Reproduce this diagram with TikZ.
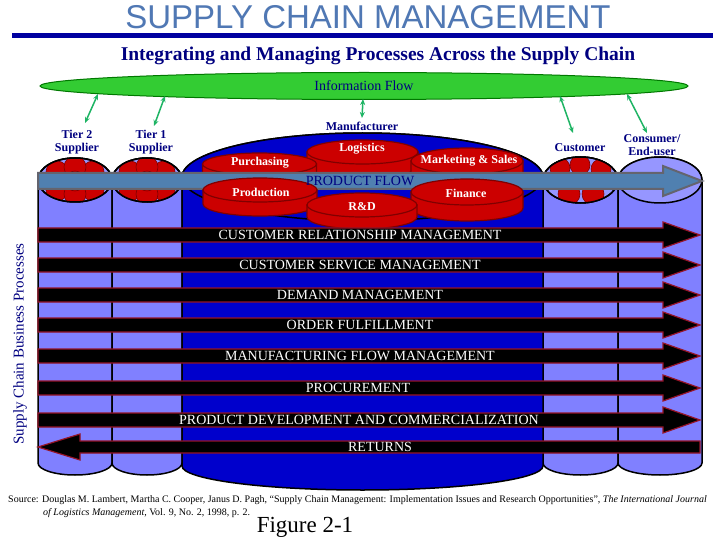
\documentclass[tikz,border=0pt]{standalone}
\usepackage{fontspec}
\setmainfont{Liberation Serif}
\newfontfamily\titlefont{Liberation Sans}
\usetikzlibrary{shapes.geometric}
\usetikzlibrary{arrows.meta}

\definecolor{titleblue}{RGB}{80,120,180}
\definecolor{rulenavy}{RGB}{0,0,160}
\definecolor{textnavy}{RGB}{0,0,128}
\definecolor{infogreen}{RGB}{51,204,51}
\definecolor{infoedge}{RGB}{0,120,0}
\definecolor{linkgreen}{RGB}{30,180,100}
\definecolor{lightcol}{RGB}{128,128,255}
\definecolor{lighttop}{RGB}{150,150,255}
\definecolor{makerblue}{RGB}{0,0,204}
\definecolor{discred}{RGB}{204,0,0}
\definecolor{discedge}{RGB}{128,0,0}
\definecolor{flowblue}{RGB}{80,128,176}
\definecolor{flowedge}{RGB}{100,100,110}
\definecolor{procedge}{RGB}{150,20,40}

\tikzset{
  column/.style={fill=lightcol,draw=black,line width=1.5},
  coltop/.style={fill=lighttop,draw=black,line width=1.5},
  makercol/.style={fill=makerblue,draw=black,line width=1.5},
  disc/.style={fill=discred,draw=discedge,line width=1.2},
  blob/.style={fill=discred,draw=discedge,line width=0.6},
  disclabel/.style={font=\bfseries\fontsize{12}{12}\selectfont,text=white},
  actor/.style={font=\bfseries\fontsize{12}{13}\selectfont,text=textnavy,align=center},
  infolink/.style={draw=linkgreen,line width=1.5,{Stealth[length=6pt,width=5pt]}-{Stealth[length=6pt,width=5pt]}},
  flowarrow/.style={fill=flowblue,draw=flowedge,line width=2},
  procarrow/.style={fill=black,draw=procedge,line width=1.2},
  proclabel/.style={font=\fontsize{14}{14}\selectfont,text=white}
}

\begin{document}
\begin{tikzpicture}[x=1pt,y=-1pt]
\useasboundingbox (0,0) rectangle (720,540);
\fill[white] (0,0) rectangle (720,540);

\node[font=\titlefont\fontsize{33}{33}\selectfont,text=titleblue] (title) at (368,17) {SUPPLY CHAIN MANAGEMENT};
\draw[rulenavy,line width=5] (12,36) -- (713,36);
\node[font=\bfseries\fontsize{19.5}{19.5}\selectfont,text=textnavy] (subtitle) at (378,56) {Integrating and Managing Processes Across the Supply Chain};

\node[ellipse,fill=infogreen,draw=infoedge,line width=1,minimum width=648,minimum height=27,inner sep=0,font=\fontsize{14}{14}\selectfont,text=textnavy] (info) at (364,86) {Information Flow};

\node[actor] (tiertwo) at (77,142) {Tier 2\\Supplier};
\node[actor] (tierone) at (151,142) {Tier 1\\Supplier};
\node[actor] (maker) at (362,126) {Manufacturer};
\node[actor] (customer) at (580,148) {Customer};
\node[actor] (consumer) at (652,145) {Consumer/\\End-user};

\coordinate (ia) at (98,94);
\coordinate (ib) at (165,96);
\coordinate (ic) at (363,99);
\coordinate (id) at (560,96);
\coordinate (ie) at (627,94);
\coordinate (ta) at (85,123);
\coordinate (tb) at (154,126);
\coordinate (tc) at (362,118);
\coordinate (td) at (573,133);
\coordinate (te) at (647,133);
\draw[infolink] (ia) -- (ta);
\draw[infolink] (ib) -- (tb);
\draw[infolink] (ic) -- (tc);
\draw[infolink] (id) -- (td);
\draw[infolink] (ie) -- (te);

% columns
\draw[column] (38,180) -- (38,463) arc[start angle=180,end angle=0,x radius=37,y radius=12] -- (112,180) arc[start angle=0,end angle=-180,x radius=37,y radius=22] -- cycle;
\draw[column] (112,180) -- (112,463) arc[start angle=180,end angle=0,x radius=35,y radius=12] -- (182,180) arc[start angle=0,end angle=-180,x radius=35,y radius=22] -- cycle;
\draw[column] (543,180) -- (543,463) arc[start angle=180,end angle=0,x radius=37.5,y radius=12] -- (618,180) arc[start angle=0,end angle=-180,x radius=37.5,y radius=23] -- cycle;
\draw[column] (618,180) -- (618,463) arc[start angle=180,end angle=0,x radius=42,y radius=12] -- (702,180) arc[start angle=0,end angle=-180,x radius=42,y radius=23] -- cycle;
\draw[makercol] (182,177) -- (182,466) arc[start angle=180,end angle=0,x radius=180.5,y radius=24] -- (543,177) arc[start angle=0,end angle=-180,x radius=180.5,y radius=44] -- cycle;
\draw[makercol] (362.5,177) ellipse[x radius=180.5,y radius=44];

\draw[coltop] (75,180) ellipse[x radius=37,y radius=22];
\draw[coltop] (147,180) ellipse[x radius=35,y radius=22];
\draw[coltop] (580.5,180) ellipse[x radius=37.5,y radius=23];
\draw[coltop] (660,180) ellipse[x radius=42,y radius=23];

\begin{scope}
\clip (75,180) ellipse[x radius=37,y radius=22];
\draw[blob] (57,172) circle[radius=11];
\draw[blob] (93,172) circle[radius=11];
\draw[blob] (57,190) circle[radius=11];
\draw[blob] (93,190) circle[radius=11];
\draw[blob] (75,167) circle[radius=11];
\draw[blob] (75,194) circle[radius=11];
\draw[blob] (75,181) circle[radius=10];
\end{scope}
\begin{scope}
\clip (147,180) ellipse[x radius=35,y radius=22];
\draw[blob] (130,172) circle[radius=11];
\draw[blob] (164,172) circle[radius=11];
\draw[blob] (130,190) circle[radius=11];
\draw[blob] (164,190) circle[radius=11];
\draw[blob] (147,167) circle[radius=11];
\draw[blob] (147,194) circle[radius=11];
\draw[blob] (147,181) circle[radius=10];
\end{scope}
\begin{scope}
\clip (580.5,180) ellipse[x radius=37.5,y radius=23];
\draw[blob] (560,168) circle[radius=10];
\draw[blob] (580,165) circle[radius=10];
\draw[blob] (601,169) circle[radius=10];
\draw[blob] (569,194) circle[radius=11];
\draw[blob] (593,194) circle[radius=11];
\end{scope}
\draw[black,line width=1.5] (75,180) ellipse[x radius=37,y radius=22];
\draw[black,line width=1.5] (147,180) ellipse[x radius=35,y radius=22];
\draw[black,line width=1.5] (580.5,180) ellipse[x radius=37.5,y radius=23];

% back discs
\draw[disc] (307,152) -- (307,166) arc[start angle=180,end angle=0,x radius=55.5,y radius=12] -- (418,152) -- cycle;
\draw[disc] (362.5,152) ellipse[x radius=55.5,y radius=12];
\draw[disc] (202.5,164) -- (202.5,178) arc[start angle=180,end angle=0,x radius=57,y radius=11] -- (316.5,164) -- cycle;
\draw[disc] (259.5,164) ellipse[x radius=57,y radius=11];
\draw[disc] (411,161) -- (411,175) arc[start angle=180,end angle=0,x radius=56,y radius=13] -- (523,161) -- cycle;
\draw[disc] (467,161) ellipse[x radius=56,y radius=13];
\node[disclabel] (logistics) at (362,149) {Logistics};
\node[disclabel] (purchasing) at (260,163) {Purchasing};
\node[disclabel] (marketing) at (469,161) {Marketing \& Sales};

% product flow
\draw[flowarrow] (38,173) -- (663,173) -- (663,166) -- (702,181) -- (663,196) -- (663,189) -- (38,189) -- cycle;

% front discs
\draw[disc] (203,190) -- (203,204) arc[start angle=180,end angle=0,x radius=57,y radius=12] -- (317,190) -- cycle;
\draw[disc] (260,190) ellipse[x radius=57,y radius=12];
\draw[disc] (411,192) -- (411,208) arc[start angle=180,end angle=0,x radius=56,y radius=13] -- (523,192) -- cycle;
\draw[disc] (467,192) ellipse[x radius=56,y radius=13];
\draw[disc] (307,205) -- (307,217) arc[start angle=180,end angle=0,x radius=55,y radius=12] -- (417,205) -- cycle;
\draw[disc] (362,205) ellipse[x radius=55,y radius=12];
\node[disclabel] (production) at (261,192) {Production};
\node[disclabel] (finance) at (466,193) {Finance};
\node[disclabel] (rnd) at (362,207) {R\&D};
\node[font=\fontsize{14}{14}\selectfont,text=textnavy] (flow) at (360,181) {PRODUCT FLOW};

% processes
\draw[procarrow] (38,228) -- (663,228) -- (663,222) -- (700,235) -- (663,248) -- (663,242) -- (38,242) -- cycle;
\draw[procarrow] (38,258) -- (663,258) -- (663,252) -- (700,265) -- (663,278) -- (663,272) -- (38,272) -- cycle;
\draw[procarrow] (38,288) -- (663,288) -- (663,282) -- (700,295) -- (663,308) -- (663,302) -- (38,302) -- cycle;
\draw[procarrow] (38,318) -- (663,318) -- (663,312) -- (700,325) -- (663,338) -- (663,332) -- (38,332) -- cycle;
\draw[procarrow] (38,349) -- (663,349) -- (663,343) -- (700,356) -- (663,369) -- (663,363) -- (38,363) -- cycle;
\draw[procarrow] (38,381) -- (663,381) -- (663,375) -- (700,388) -- (663,401) -- (663,395) -- (38,395) -- cycle;
\draw[procarrow] (38,413) -- (663,413) -- (663,407) -- (700,420) -- (663,433) -- (663,427) -- (38,427) -- cycle;
\draw[procarrow] (700,441) -- (80,441) -- (80,434) -- (38,447) -- (80,460) -- (80,453) -- (700,453) -- cycle;
\node[proclabel] (crm) at (360,235) {CUSTOMER RELATIONSHIP MANAGEMENT};
\node[proclabel] (csm) at (360,265) {CUSTOMER SERVICE MANAGEMENT};
\node[proclabel] (dm) at (360,295) {DEMAND MANAGEMENT};
\node[proclabel] (of) at (360,325) {ORDER FULFILLMENT};
\node[proclabel] (mfm) at (360,356) {MANUFACTURING FLOW MANAGEMENT};
\node[proclabel] (proc) at (358,388) {PROCUREMENT};
\node[proclabel] (pdc) at (359,420) {PRODUCT DEVELOPMENT AND COMMERCIALIZATION};
\node[proclabel] (ret) at (380,447) {RETURNS};

\node[font=\fontsize{15}{15}\selectfont,text=textnavy,rotate=90] (scbp) at (20,344) {Supply Chain Business Processes};

\node[font=\fontsize{10}{10}\selectfont,anchor=west,inner sep=0] (src) at (8,500) {Source: Douglas M. Lambert, Martha C. Cooper, Janus D. Pagh, ``Supply Chain Management: Implementation Issues and Research Opportunities'', \textit{The International Journal}};
\node[font=\fontsize{10}{10}\selectfont,anchor=west,inner sep=0] (srcb) at (43,513) {\textit{of Logistics Management}, Vol. 9, No. 2, 1998, p. 2.};
\node[font=\fontsize{23}{23}\selectfont] (fig) at (305,527) {Figure 2-1};

\end{tikzpicture}
\end{document}
